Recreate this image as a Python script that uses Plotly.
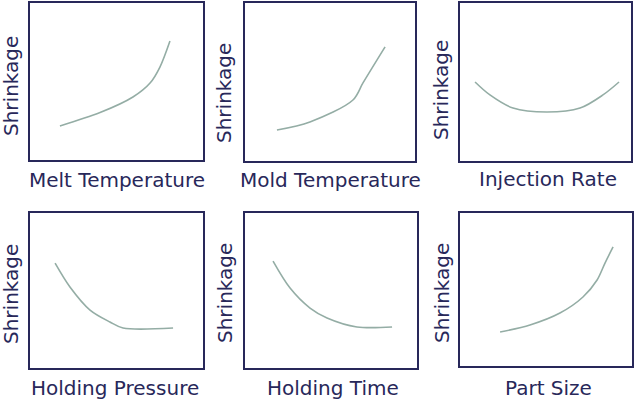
import plotly.graph_objects as go

W, H = 640, 415

# ---- data (arbitrary 0-10 units) ----
titles = ["Melt Temperature", "Mold Temperature", "Injection Rate",
          "Holding Pressure", "Holding Time", "Part Size"]
y_label = "Shrinkage"

melt_x = [1.73, 4.05, 5.95, 6.94, 7.51, 8.09]
melt_y = [2.17, 3.02, 4.01, 4.90, 5.92, 7.58]

mold_x = [1.88, 3.82, 6.35, 6.94, 8.24]
mold_y = [1.96, 2.47, 3.86, 4.94, 7.22]

inj_x = [0.88, 1.75, 3.10, 5.09, 7.02, 8.36, 9.30]
inj_y = [5.00, 4.18, 3.35, 3.10, 3.35, 4.18, 5.00]

hp_x = [1.45, 2.31, 3.47, 4.62, 5.38, 8.27]
hp_y = [6.77, 5.23, 3.74, 2.97, 2.58, 2.58]

ht_x = [1.63, 2.62, 3.78, 4.77, 6.51, 8.55]
ht_y = [6.90, 5.16, 3.87, 3.23, 2.65, 2.65]

ps_x = [2.33, 4.07, 5.81, 7.15, 7.97, 8.43, 8.90]
ps_y = [2.22, 2.68, 3.46, 4.51, 5.62, 6.73, 7.78]

series = [(melt_x, melt_y), (mold_x, mold_y), (inj_x, inj_y),
          (hp_x, hp_y), (ht_x, ht_y), (ps_x, ps_y)]

# ---- layout (pixel boxes of each panel) ----
boxes = [(30, 203, 3, 160), (245, 415, 3, 161), (460, 631, 3, 161),
         (30, 203, 213, 368), (245, 417, 213, 368), (460, 632, 213, 366)]
title_pos = [(117, 180), (330, 180), (548, 179), (115, 388), (333, 388), (548, 388)]
ylab_pos = [(11, 86), (224, 93), (441, 90), (11, 294), (225, 293), (442, 293)]

navy = "#28285a"
curve = "#94ada5"
font = "DejaVu Sans"

fig = go.Figure()
layout = dict(width=W, height=H, margin=dict(l=0, r=0, t=0, b=0),
              paper_bgcolor="white", plot_bgcolor="white", showlegend=False)
annotations = []
for i, ((xs, ys), (x0, x1, y0, y1)) in enumerate(zip(series, boxes)):
    n = i + 1
    xa = "x" if n == 1 else f"x{n}"
    ya = "y" if n == 1 else f"y{n}"
    fig.add_trace(go.Scatter(x=xs, y=ys, mode="lines", xaxis=xa, yaxis=ya,
                             line=dict(color=curve, width=1.6, shape="spline", smoothing=0.9),
                             hoverinfo="skip"))
    ax = dict(domain=[x0 / W, x1 / W], range=[0, 10], showgrid=False, zeroline=False,
              showticklabels=False, ticks="", showline=True, mirror=True,
              linecolor=navy, linewidth=2, fixedrange=True)
    ay = dict(domain=[1 - y1 / H, 1 - y0 / H], range=[0, 10], showgrid=False, zeroline=False,
              showticklabels=False, ticks="", showline=True, mirror=True,
              linecolor=navy, linewidth=2, fixedrange=True)
    key = "" if n == 1 else str(n)
    ax["anchor"] = ya
    ay["anchor"] = xa
    layout["xaxis" + key] = ax
    layout["yaxis" + key] = ay
    tx, ty = title_pos[i]
    annotations.append(dict(text=titles[i], x=tx / W, y=1 - ty / H, xref="paper", yref="paper",
                            showarrow=False, xanchor="center", yanchor="middle",
                            font=dict(family=font, size=20, color=navy)))
    lx, ly = ylab_pos[i]
    annotations.append(dict(text=y_label, x=lx / W, y=1 - ly / H, xref="paper", yref="paper",
                            showarrow=False, xanchor="center", yanchor="middle", textangle=-90,
                            font=dict(family=font, size=20, color=navy)))
layout["annotations"] = annotations
fig.update_layout(**layout)
fig.write_html("out.html", config={"displayModeBar": False},
               post_script="document.body.style.margin='0';")
